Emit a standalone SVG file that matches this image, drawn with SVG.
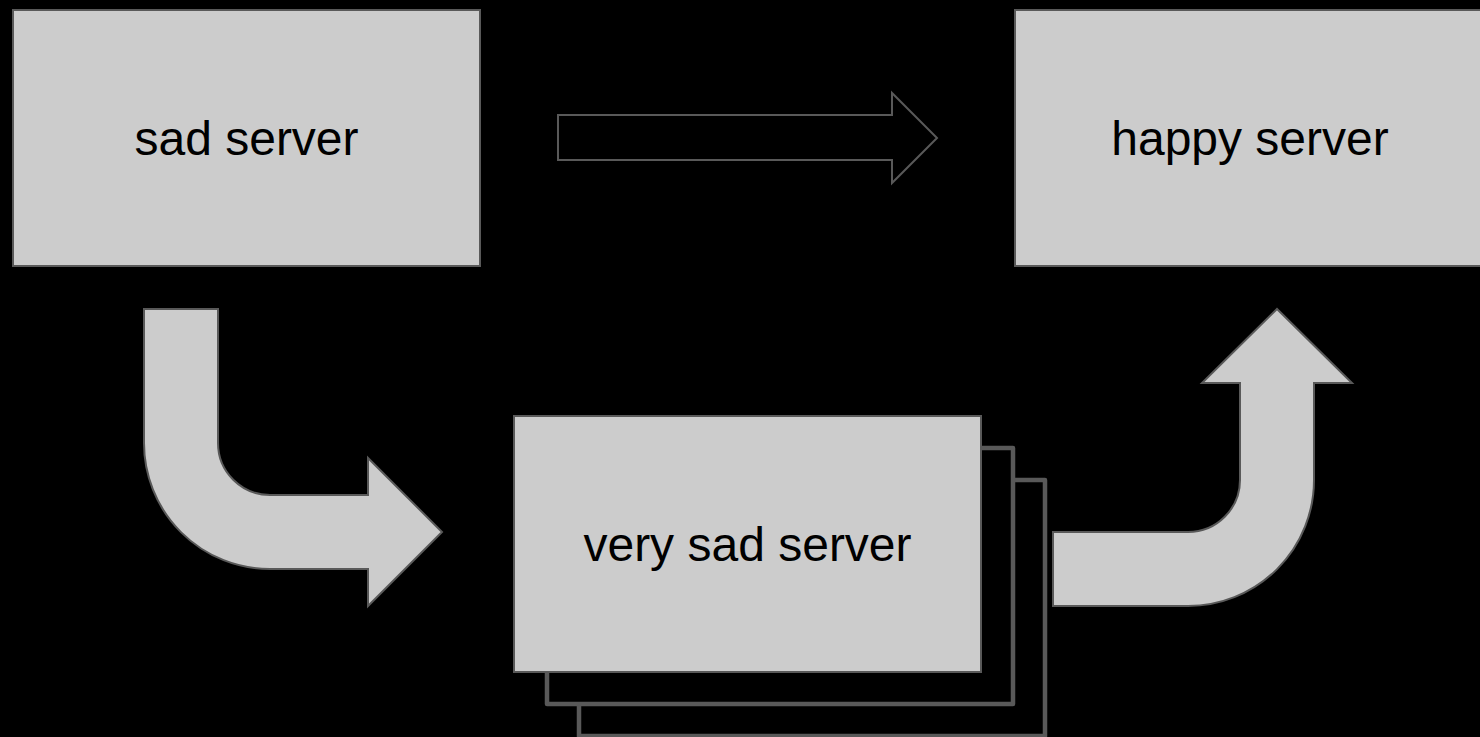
<svg xmlns="http://www.w3.org/2000/svg" width="1480" height="737" viewBox="0 0 1480 737">
  <style>
    .box { fill: #cccccc; stroke: #595959; stroke-width: 2; }
    .back { fill: #000000; stroke: #595959; stroke-width: 4.5; stroke-linejoin: round; }
    .label { font-family: "Liberation Sans", Arial, sans-serif; font-size: 48px; fill: #000000; text-anchor: middle; }
    .hollow { fill: none; stroke: #595959; stroke-width: 2; }
    .solid { fill: #cccccc; stroke: #595959; stroke-width: 2; }
  </style>
  <rect x="0" y="0" width="1480" height="737" fill="#000000"/>

  <g id="sad-server">
    <rect class="box" x="13" y="10" width="467" height="256"/>
    <text class="label" x="246.5" y="155">sad server</text>
  </g>

  <g id="happy-server">
    <rect class="box" x="1015" y="10" width="467" height="256"/>
    <text class="label" x="1250" y="155">happy server</text>
  </g>

  <g id="very-sad-server">
    <rect class="back" x="579" y="480" width="466" height="256"/>
    <rect class="back" x="547" y="448" width="466" height="256"/>
    <rect class="box" x="514" y="416" width="467" height="256"/>
    <text class="label" x="747.5" y="561">very sad server</text>
  </g>

  <g id="connectors">
    <path class="hollow" d="M558,115 H892 V93 L937,138 L892,183 V160 H558 Z"/>
    <path class="solid" d="M144,309 H218 V443 A52,52 0 0 0 270,495 H368 V458 L442,532 L368,606 V569 H270 A126,126 0 0 1 144,443 Z"/>
    <path class="solid" d="M1053,532 H1188 A52,52 0 0 0 1240,480 V383 H1202 L1277,309 L1352,383 H1314 V480 A126,126 0 0 1 1188,606 H1053 Z"/>
  </g>
</svg>
